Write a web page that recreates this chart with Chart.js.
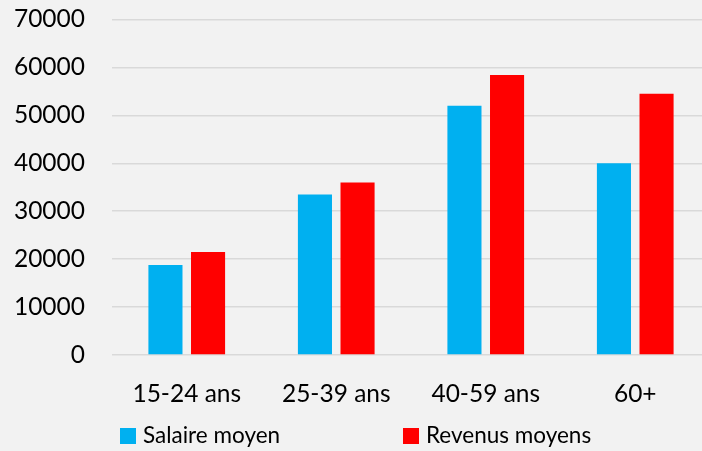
<!DOCTYPE html>
<html>
<head>
<meta charset="utf-8">
<script src="https://cdn.jsdelivr.net/npm/chart.js@4"></script>
<style>
  html, body { margin: 0; padding: 0; background: #F2F2F2; overflow: hidden; }
  #wrap { position: relative; width: 702px; height: 451px; overflow: hidden; }
  #wrap canvas { position: absolute; left: 0; top: 0; }
  .legend { position: absolute; top: 421px; font-family: Lato, sans-serif; font-size: 22.5px; color: #000; white-space: nowrap; }
  .legend .box { display: inline-block; width: 16px; height: 16px; margin-right: 7px; vertical-align: -1px; }
</style>
</head>
<body>
<div id="wrap">
  <canvas id="chart" width="710" height="451"></canvas>
  <div class="legend" style="left:120px"><span class="box" style="background:#00B0F0"></span>Salaire moyen</div>
  <div class="legend" style="left:403px"><span class="box" style="background:#FF0000"></span>Revenus moyens</div>
</div>
<script>
const categories = ['15-24 ans', '25-39 ans', '40-59 ans', '60+'];
const salaire = [18800, 33500, 52000, 40000];
const revenus = [21500, 36000, 58400, 54500];
const yTicks = [0, 10000, 20000, 30000, 40000, 50000, 60000, 70000];

const FONT = { family: 'Lato, sans-serif', size: 24.5 };

new Chart(document.getElementById('chart'), {
  type: 'bar',
  data: {
    labels: categories,
    datasets: [
      { label: 'Salaire moyen', data: salaire, backgroundColor: '#00B0F0' },
      { label: 'Revenus moyens', data: revenus, backgroundColor: '#FF0000' }
    ]
  },
  options: {
    responsive: false,
    animation: false,
    categoryPercentage: 0.57,
    barPercentage: 0.8,
    layout: { padding: { top: 19.5, left: 0, right: 0, bottom: 0 } },
    plugins: { legend: { display: false }, tooltip: { enabled: false } },
    scales: {
      x: {
        grid: { display: false },
        border: { display: false },
        ticks: { color: '#000', font: FONT, padding: 16, maxRotation: 0 },
        afterFit: s => { s.height = 96; s.paddingLeft = 0; s.paddingRight = 0; }
      },
      y: {
        min: 0,
        max: 70000,
        afterBuildTicks: s => { s.ticks = yTicks.map(v => ({ value: v })); },
        grid: { color: '#D9D9D9', lineWidth: 1.5, drawTicks: false },
        border: { display: false },
        ticks: { color: '#000', font: FONT, padding: 27, callback: v => String(v) },
        afterFit: s => { s.width = 112; s.paddingTop = 0; s.paddingBottom = 0; }
      }
    }
  }
});
</script>
</body>
</html>
